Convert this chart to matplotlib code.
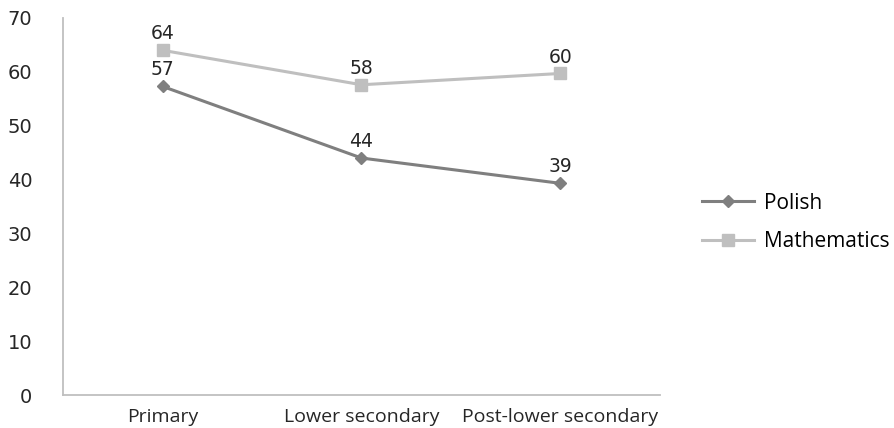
import numpy as np
import matplotlib.pyplot as plt

levels = ['Primary', 'Lower secondary', 'Post-lower secondary']
polish = [57.3, 44.0, 39.3]
maths = [64.0, 57.6, 59.7]
polish_labels = ['57', '44', '39']
maths_labels = ['64', '58', '60']

fig = plt.figure(figsize=(8.95, 4.28), dpi=100)
ax = fig.add_axes([0.0704, 0.077, 0.667, 0.881])

x = np.arange(len(levels))
ax.plot(x, polish, color='#7f7f7f', lw=2.2, marker='D', ms=6.5, label='Polish')
ax.plot(x, maths, color='#bfbfbf', lw=2.2, marker='s', ms=8, label='Mathematics')

for xi, v, t in zip(x, polish, polish_labels):
    ax.annotate(t, (xi, v), xytext=(0, 5), textcoords='offset points',
                ha='center', va='bottom', fontsize=13.5, color='#262626',
                family='DejaVu Sans')
for xi, v, t in zip(x, maths, maths_labels):
    ax.annotate(t, (xi, v), xytext=(0, 5), textcoords='offset points',
                ha='center', va='bottom', fontsize=13.5, color='#262626',
                family='DejaVu Sans')

ax.set_xlim(-0.5, 2.5)
ax.set_ylim(0, 70)
ax.set_yticks(range(0, 71, 10))
ax.set_xticks(x)
ax.set_xticklabels(levels, fontsize=14, family='Open Sans', color='#262626')
for lab in ax.get_yticklabels():
    lab.set_fontsize(14)
    lab.set_color('#262626')
ax.tick_params(axis='y', length=0, pad=22)
ax.tick_params(axis='x', length=0, pad=9)

for s in ['top', 'right']:
    ax.spines[s].set_visible(False)
for s in ['left', 'bottom']:
    ax.spines[s].set_color('#bfbfbf')
    ax.spines[s].set_linewidth(1.3)

leg = ax.legend(loc='center left', bbox_to_anchor=(1.07, 0.4576), frameon=False,
                prop={'family': 'Open Sans', 'size': 15}, handlelength=2.5,
                handletextpad=0.5, labelspacing=0.85, borderaxespad=0,
                borderpad=0)

fig.savefig('out.png', dpi=100)
